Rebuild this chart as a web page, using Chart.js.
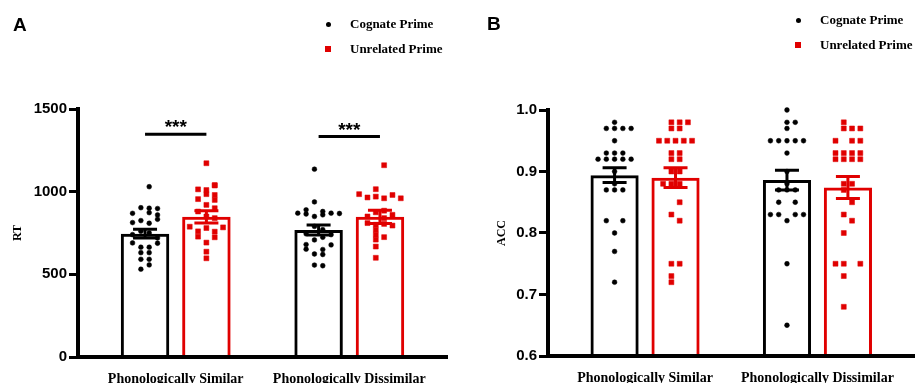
<!DOCTYPE html>
<html>
<head>
<meta charset="utf-8">
<script src="https://cdn.jsdelivr.net/npm/chart.js@4.4.1/dist/chart.umd.min.js"></script>
<style>
  body { margin: 0; background: #fff; }
  #wrap { position: relative; width: 919px; height: 383px; overflow: hidden; }
  canvas { position: absolute; top: 0; }
  .panel { position: absolute; font: bold 19px "Liberation Sans", Arial, sans-serif; line-height: 20px; }
  .key { position: absolute; font: bold 13px "Liberation Serif", "Times New Roman", serif; white-space: nowrap; line-height: 16px; }
  .mark { position: absolute; }
</style>
</head>
<body>
<div id="wrap">
  <canvas id="chartA" width="460" height="383" style="left:0"></canvas>
  <canvas id="chartB" width="459" height="383" style="left:460px"></canvas>
  <div class="panel" style="left:13px;top:15px">A</div>
  <div class="panel" style="left:487px;top:14px">B</div>
</div>
<script>
const categories = ['Phonologically Similar', 'Phonologically Dissimilar'];
const seriesNames = ['Cognate Prime', 'Unrelated Prime'];
const seriesColors = ['#000000', '#e00000'];

// Panel A - RT
const rtCognateMean = [746, 768];
const rtCognateSem = [26, 30];
const rtUnrelatedMean = [848, 848];
const rtUnrelatedSem = [37, 40];
const rtCognateSimilar = [1030, 903, 900, 898, 873, 869, 859, 833, 825, 813, 809, 760, 750, 740, 720, 690, 688, 664, 664, 631, 631, 591, 591, 557, 531];
const rtCognateSimilarCol = [0.5, -0.5, 0.5, 1.5, 0.5, -1.5, 1.5, 1.5, -0.5, -1.5, 0.5, -0.5, 0.5, -1.5, 1.5, -1.5, 1.5, -0.5, 0.5, -0.5, 0.5, -0.5, 0.5, 0.5, -0.5];
const rtUnrelatedSimilar = [1172, 1040, 1037, 1014, 1010, 985, 980, 955, 950, 920, 900, 880, 850, 840, 788, 784, 780, 760, 758, 728, 724, 692, 637, 597];
const rtUnrelatedSimilarCol = [0, 1, 1, -1, 0, 0, 1, -1, 1, 0, 1, -1, 0, 1, -2, 2, 0, -1, 1, -1, 1, 0, 0, 0];
const rtCognateDissimilar = [1136, 938, 890, 870, 880, 865, 860, 870, 868, 850, 790, 770, 745, 740, 724, 708, 680, 678, 652, 650, 623, 620, 556, 552];
const rtCognateDissimilarCol = [-0.5, -0.5, -1.5, -2.5, 0.5, -1.5, 0.5, 1.5, 2.5, -0.5, -0.5, 0.5, -1.5, 1.5, 0.5, -0.5, -1.5, 1.5, -1.5, 0.5, -0.5, 0.5, -0.5, 0.5];
const rtUnrelatedDissimilar = [1160, 1015, 985, 980, 970, 965, 960, 960, 885, 875, 860, 850, 840, 810, 805, 800, 795, 770, 740, 725, 710, 668, 600];
const rtUnrelatedDissimilarCol = [0.5, -0.5, -2.5, 1.5, -0.5, -1.5, 0.5, 2.5, 0.5, -0.5, 1.5, -1.5, 0.5, -1.5, 0.5, -0.5, 1.5, -0.5, -0.5, 0.5, -0.5, -0.5, -0.5];
const rtSigLevel = [1347, 1333];
const rtSigText = ['***', '***'];

// Panel B - ACC
const accCognateMean = [0.894, 0.886];
const accCognateSem = [0.012, 0.016];
const accUnrelatedMean = [0.890, 0.874];
const accUnrelatedSem = [0.016, 0.018];
const accCognateSimilar = [0.98, 0.97, 0.97, 0.97, 0.97, 0.95, 0.93, 0.93, 0.93, 0.92, 0.92, 0.92, 0.92, 0.92, 0.90, 0.88, 0.87, 0.87, 0.87, 0.82, 0.82, 0.80, 0.77, 0.72];
const accCognateSimilarCol = [0, -1, 0, 1, 2, 0, -1, 0, 1, -2, -1, 0, 1, 2, 0, 0, -1, 0, 1, -1, 1, 0, 0, 0];
const accUnrelatedSimilar = [0.98, 0.98, 0.98, 0.97, 0.97, 0.95, 0.95, 0.95, 0.95, 0.95, 0.93, 0.93, 0.92, 0.92, 0.90, 0.90, 0.88, 0.88, 0.88, 0.85, 0.83, 0.82, 0.75, 0.75, 0.73, 0.72];
const accUnrelatedSimilarCol = [-0.5, 0.5, 1.5, -0.5, 0.5, -2, -1, 0, 1, 2, -0.5, 0.5, -0.5, 0.5, -0.5, 0.5, -1.5, -0.5, 0.5, 0.5, -0.5, 0.5, -0.5, 0.5, -0.5, -0.5];
const accCognateDissimilar = [1.00, 0.98, 0.98, 0.97, 0.95, 0.95, 0.95, 0.95, 0.95, 0.93, 0.90, 0.88, 0.87, 0.87, 0.87, 0.85, 0.85, 0.83, 0.83, 0.83, 0.83, 0.82, 0.75, 0.65];
const accCognateDissimilarCol = [0, 0, 1, 0, -2, -1, 0, 1, 2, 0, 0, 0, -1, 0, 1, -1, 1, -2, -1, 1, 2, 0, 0, 0];
const accUnrelatedDissimilar = [0.98, 0.97, 0.97, 0.97, 0.95, 0.95, 0.95, 0.93, 0.93, 0.93, 0.93, 0.92, 0.92, 0.92, 0.92, 0.88, 0.88, 0.87, 0.85, 0.83, 0.82, 0.80, 0.75, 0.75, 0.75, 0.73, 0.68];
const accUnrelatedDissimilarCol = [-0.5, -0.5, 0.5, 1.5, -1.5, 0.5, 1.5, -1.5, -0.5, 0.5, 1.5, -1.5, -0.5, 0.5, 1.5, -0.5, 0.5, -0.5, 0.5, -0.5, 0.5, -0.5, -1.5, -0.5, 1.5, -0.5, -0.5];

const CAT_PCT = 0.707;
const BAR_PCT = 0.79;
const COL_STEP = 0.048;
const barShift = CAT_PCT / 4; // centre of each of the two bar slots

const serif = '"Liberation Serif", "Times New Roman", serif';
const sans = '"Liberation Sans", Arial, sans-serif';

function points(vals, cols, cat, series) {
    const shift = series === 0 ? -barShift : barShift;
    return vals.map((v, i) => ({ x: cat + shift + cols[i] * COL_STEP, y: v }));
}

const errorBars = {
    id: 'errorBars',
    afterDatasetsDraw(chart, args, opts) {
        const ctx = chart.ctx;
        const y = chart.scales.y;
        ctx.save();
        ctx.lineWidth = 3;
        opts.sets.forEach((set, s) => {
            const meta = chart.getDatasetMeta(set.index);
            ctx.strokeStyle = seriesColors[s];
            set.mean.forEach((m, j) => {
                const x = meta.data[j].x;
                const top = y.getPixelForValue(m + set.sem[j]);
                const bot = y.getPixelForValue(m - set.sem[j]);
                ctx.beginPath();
                ctx.moveTo(x, top); ctx.lineTo(x, bot);
                ctx.moveTo(x - 12, top); ctx.lineTo(x + 12, top);
                ctx.moveTo(x - 12, bot); ctx.lineTo(x + 12, bot);
                ctx.stroke();
            });
        });
        if (opts.sig) {
            const xs = chart.scales.x;
            ctx.strokeStyle = '#000';
            ctx.fillStyle = '#000';
            ctx.font = 'bold 19px ' + sans;
            ctx.textAlign = 'center';
            ctx.textBaseline = 'alphabetic';
            opts.sig.level.forEach((lv, j) => {
                const py = y.getPixelForValue(lv);
                const x0 = xs.getPixelForValue(j - barShift);
                const x1 = xs.getPixelForValue(j + barShift);
                ctx.beginPath();
                ctx.moveTo(x0, py); ctx.lineTo(x1, py);
                ctx.stroke();
                ctx.fillText(opts.sig.text[j], (x0 + x1) / 2, py - 1);
            });
        }
        ctx.restore();
    }
};

function makeChart(id, cfg) {
    const ds = [];
    cfg.groups.forEach((g) => {
        ds.push({
            type: 'scatter',
            data: points(g.vals, g.cols, g.cat, g.series),
            pointStyle: g.series === 0 ? 'circle' : 'rect',
            pointRadius: g.series === 0 ? 2.4 : 3.5,
            pointBackgroundColor: seriesColors[g.series],
            pointBorderColor: seriesColors[g.series],
            pointBorderWidth: 0.5,
            clip: false,
            order: 1
        });
    });
    const barStart = ds.length;
    cfg.means.forEach((m, s) => {
        ds.push({
            type: 'bar',
            label: seriesNames[s],
            data: m.map((v, j) => ({ x: j, y: v })),
            backgroundColor: 'rgba(0,0,0,0)',
            borderColor: seriesColors[s],
            borderWidth: 3,
            categoryPercentage: CAT_PCT,
            barPercentage: BAR_PCT,
            order: 2
        });
    });
    return new Chart(document.getElementById(id), {
        type: 'bar',
        data: { datasets: ds },
        plugins: [errorBars],
        options: {
            responsive: false,
            animation: false,
            events: [],
            layout: { padding: cfg.padding },
            plugins: {
                legend: { display: false },
                tooltip: { enabled: false },
                errorBars: {
                    sets: cfg.means.map((m, s) => ({ index: barStart + s, mean: m, sem: cfg.sems[s] })),
                    sig: cfg.sig
                }
            },
            scales: {
                x: {
                    type: 'linear',
                    offset: false,
                    min: -0.563,
                    max: 1.563,
                    afterBuildTicks: (s) => { s.ticks = [{ value: 0 }, { value: 1 }]; },
                    afterFit: (s) => { s.height = cfg.xHeight; },
                    grid: { display: false },
                    border: { display: true, color: '#000', width: 4, z: 1 },
                    ticks: {
                        autoSkip: false,
                        maxRotation: 0,
                        padding: 6,
                        color: '#000',
                        font: { family: serif, size: 14, weight: 'bold' },
                        callback: (v) => categories[v]
                    }
                },
                y: {
                    min: cfg.yMin,
                    max: cfg.yMax,
                    afterFit: (s) => { s.width = cfg.yWidth; },
                    ticks: {
                        stepSize: cfg.step,
                        padding: 2,
                        color: '#000',
                        font: { family: sans, size: 15, weight: 'bold' },
                        callback: cfg.fmt
                    },
                    grid: { drawOnChartArea: false, drawTicks: true, tickLength: 9, lineWidth: 3, color: '#000' },
                    border: { display: true, color: '#000', width: 4, z: 1 },
                    title: {
                        display: true,
                        text: cfg.yTitle,
                        color: '#000',
                        font: { family: serif, size: 12, weight: 'bold' },
                        padding: { top: cfg.titlePad, bottom: 0 }
                    }
                }
            }
        }
    });
}

makeChart('chartA', {
    groups: [
        { vals: rtCognateSimilar, cols: rtCognateSimilarCol, cat: 0, series: 0 },
        { vals: rtUnrelatedSimilar, cols: rtUnrelatedSimilarCol, cat: 0, series: 1 },
        { vals: rtCognateDissimilar, cols: rtCognateDissimilarCol, cat: 1, series: 0 },
        { vals: rtUnrelatedDissimilar, cols: rtUnrelatedDissimilarCol, cat: 1, series: 1 }
    ],
    means: [rtCognateMean, rtUnrelatedMean],
    sems: [rtCognateSem, rtUnrelatedSem],
    sig: { level: rtSigLevel, text: rtSigText },
    yMin: 0, yMax: 1500, step: 500,
    fmt: (v) => v,
    yTitle: 'RT',
    yWidth: 78,
    titlePad: 11,
    xHeight: 26,
    padding: { top: 109, right: 13, left: 0, bottom: 0 }
});

makeChart('chartB', {
    groups: [
        { vals: accCognateSimilar, cols: accCognateSimilarCol, cat: 0, series: 0 },
        { vals: accUnrelatedSimilar, cols: accUnrelatedSimilarCol, cat: 0, series: 1 },
        { vals: accCognateDissimilar, cols: accCognateDissimilarCol, cat: 1, series: 0 },
        { vals: accUnrelatedDissimilar, cols: accUnrelatedDissimilarCol, cat: 1, series: 1 }
    ],
    means: [accCognateMean, accUnrelatedMean],
    sems: [accCognateSem, accUnrelatedSem],
    sig: null,
    yMin: 0.6, yMax: 1.0, step: 0.1,
    fmt: (v) => v.toFixed(1),
    yTitle: 'ACC',
    yWidth: 88,
    titlePad: 35,
    xHeight: 27,
    padding: { top: 110, right: 2, left: 0, bottom: 0 }
});

// legends
const wrap = document.getElementById('wrap');
function legend(markX, textX, rowY) {
    seriesNames.forEach((name, s) => {
        const cy = rowY[s];
        const m = document.createElement('div');
        m.className = 'mark';
        const size = s === 0 ? 5 : 6;
        m.style.cssText = `left:${markX - size / 2}px;top:${cy - size / 2}px;width:${size}px;height:${size}px;background:${seriesColors[s]};border-radius:${s === 0 ? '50%' : '0'}`;
        wrap.appendChild(m);
        const t = document.createElement('div');
        t.className = 'key';
        t.textContent = name;
        t.style.left = textX + 'px';
        t.style.top = (cy - 8) + 'px';
        wrap.appendChild(t);
    });
}
legend(328, 350, [24, 49]);
legend(798, 820, [20, 45]);
</script>
</body>
</html>
